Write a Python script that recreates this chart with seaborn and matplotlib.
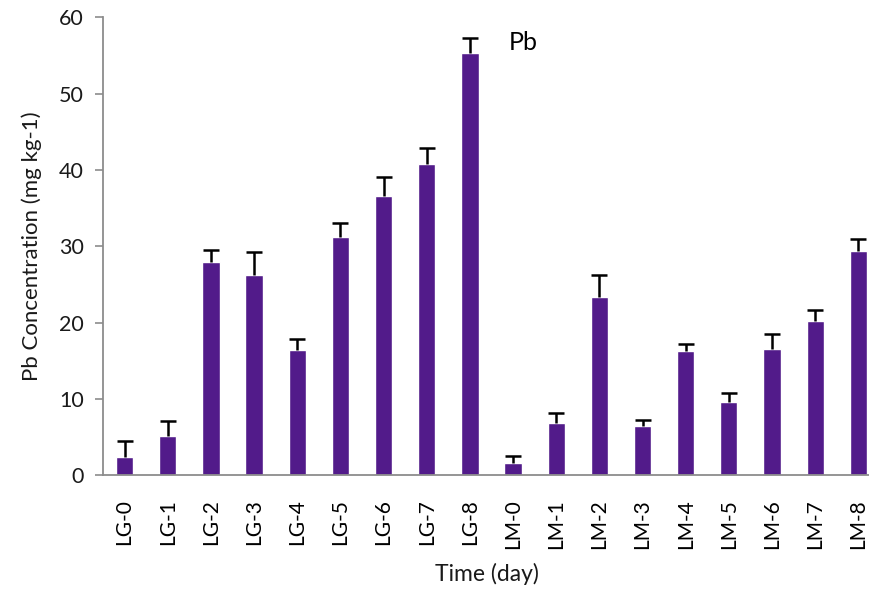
import matplotlib
matplotlib.use("Agg")
import matplotlib.pyplot as plt
import seaborn as sns
import numpy as np
import pandas as pd

categories = ["LG-0", "LG-1", "LG-2", "LG-3", "LG-4", "LG-5", "LG-6", "LG-7", "LG-8",
              "LM-0", "LM-1", "LM-2", "LM-3", "LM-4", "LM-5", "LM-6", "LM-7", "LM-8"]
values = [2.45, 5.2, 28.0, 26.2, 16.4, 31.2, 36.6, 40.8, 55.3,
          1.66, 6.8, 23.3, 6.5, 16.3, 9.6, 16.6, 20.2, 29.4]
errors = [2.1, 1.9, 1.5, 3.1, 1.4, 1.9, 2.5, 2.1, 2.0,
          0.9, 1.4, 2.9, 0.7, 0.9, 1.2, 1.9, 1.5, 1.6]
yticks = [0, 10, 20, 30, 40, 50, 60]

sns.set_theme(style="white")
plt.rcParams['font.family'] = ['Lato', 'DejaVu Sans']

df = pd.DataFrame({"cat": categories, "val": values, "err": errors})

fig = plt.figure(figsize=(8.7, 5.91), dpi=100)
ax = fig.add_axes([103/870, 0.1958, 1 - 103/870, 0.9707 - 0.1958])

bar_color = "#521B8A"
sns.barplot(data=df, x="cat", y="val", color=bar_color, width=0.4,
            saturation=1, errorbar=None, ax=ax, zorder=2)
xpos = np.arange(len(categories))
eb = ax.errorbar(xpos, df["val"], yerr=[np.zeros(len(errors)), df["err"]],
                 fmt="none", ecolor="black", elinewidth=1.8, capsize=5.5,
                 capthick=1.8, zorder=3)
caplines = eb[1]
if len(caplines) >= 2:
    caplines[0].set_visible(False)

ax.set_xlim(-0.5, 17.27)
ax.set_ylim(0, 60)
ax.set_yticks(yticks)
ax.set_yticklabels([str(t) for t in yticks], fontsize=15.5)
ax.set_xticks(xpos)
ax.set_xticklabels(categories, rotation=90, fontsize=15)

for s in ["top", "right"]:
    ax.spines[s].set_visible(False)
for s in ["left", "bottom"]:
    ax.spines[s].set_color("#8c8c8c")
    ax.spines[s].set_linewidth(1.3)

ax.tick_params(axis="y", which="major", left=True, length=6, width=1.2,
               color="#8c8c8c", pad=8, labelcolor="#1a1a1a")
ax.tick_params(axis="x", which="major", bottom=False, pad=11, labelcolor="black")

ax.set_xlabel("Time (day)", fontsize=16.5, labelpad=10, color="#1a1a1a")
ax.set_ylabel("Pb Concentration (mg kg-1)", fontsize=16, labelpad=12, color="#1a1a1a")

ax.text(9.24, 56.7, "Pb", fontsize=18, ha="center", va="center", color="black")

fig.savefig("out.png", dpi=100)
